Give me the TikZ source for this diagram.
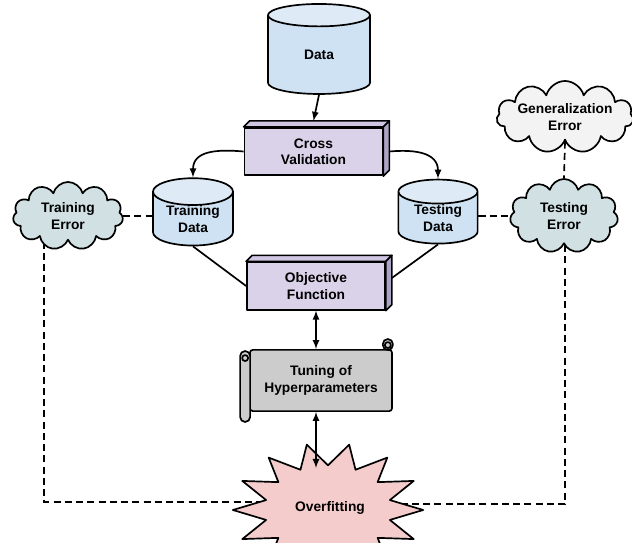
\documentclass[tikz,border=0pt]{standalone}
\usepackage{fontspec}
\setmainfont{Liberation Sans}
\usetikzlibrary{shapes.geometric,shapes.symbols,calc,backgrounds}
\definecolor{cylfill}{HTML}{CFE2F3}
\definecolor{cyltop}{HTML}{DEEBF7}
\definecolor{boxfill}{HTML}{D9D2E9}
\definecolor{boxtop}{HTML}{CFC6E2}
\definecolor{boxside}{HTML}{ADA3C4}
\definecolor{errfill}{HTML}{D0E0E3}
\definecolor{genfill}{HTML}{F3F3F3}
\definecolor{scrollfill}{HTML}{CCCCCC}
\definecolor{starfill}{HTML}{F4CCCC}
\begin{document}
\begin{tikzpicture}[x=0.025cm,y=-0.025cm,line width=1.2pt,line join=round,
	every node/.style={font=\fontsize{9.8}{11.5}\selectfont\bfseries,align=center,inner sep=0},
	db/.style={cylinder,draw,shape border rotate=90,aspect=0.75,
	cylinder uses custom fill,cylinder body fill=cylfill,cylinder end fill=cyltop},
	box/.style={rectangle,draw,fill=boxfill,minimum width=3.45cm,minimum height=1.19cm},
	err/.style={cloud,draw,cloud puffs=11,cloud ignores aspect,fill=errfill},
	dashlink/.style={dashed,dash pattern=on 5pt off 3pt}]
\useasboundingbox (0,0) rectangle (632,543);
\clip (0,0) rectangle (632,543);
% stores
\node[db,minimum width=2.55cm,minimum height=2.25cm] (data) at (319,55) {Data};
\node[db,aspect=0.5,minimum width=2cm,minimum height=1.68cm] (trd) at (193,219) {Training\\Data};
\node[db,aspect=0.5,minimum width=1.98cm,minimum height=1.6cm] (ted) at (438,218) {Testing\\Data};
% 3d boxes
\node[box] (cv) at (313.5,151.5) {Cross\\Validation};
\node[box] (obj) at (316,286) {Objective\\Function};
\foreach \n in {cv,obj}{
	\filldraw[fill=boxtop] (\n.north west) -- ++(6,-6) -- ($(\n.north east)+(6,-6)$) -- (\n.north east) -- cycle;
	\filldraw[fill=boxside] (\n.north east) -- ++(6,-6) -- ($(\n.south east)+(6,-6)$) -- (\n.south east) -- cycle;
}
% clouds
\node[err,minimum width=2.75cm,minimum height=1.7cm] (trerr) at (68,216) {Training\\Error};
\node[err,minimum width=2.7cm,minimum height=1.85cm] (teerr) at (564,216) {Testing\\Error};
\node[err,fill=genfill,minimum width=3.3cm,minimum height=1.8cm] (generr) at (565,117) {Generalization\\Error};
% scroll
\node[rectangle,draw,fill=scrollfill,rounded corners=2pt,minimum width=3.55cm,minimum height=1.53cm] (tune) at (321,380.5) {Tuning of\\Hyperparameters};
\filldraw[fill=scrollfill,rounded corners=3.5pt] ($(tune.north west)+(-9,2)$) rectangle ($(tune.south west)+(1,10)$);
\draw ($(tune.north west)+(-4,9)$) circle (3);
\filldraw[fill=scrollfill,rounded corners=3.5pt] ($(tune.north east)+(-10,1)$) rectangle ($(tune.north east)+(0,-10)$);
\draw ($(tune.north east)+(-5,-4)$) circle (3);
% overfitting
\path (328,510) node[star,draw,fill=starfill,star points=14,star point ratio=1.5,
	shape border rotate=12.857,minimum size=3.35cm,xscale=1.42] (ovf) {};
\node at (330,508) {Overfitting};
\coordinate (ovftop) at ($(ovf.center)+(-12,-42)$);
\coordinate (lc) at (44,502);
\coordinate (rc) at (565,504);
\draw[latex-latex] (obj.south |- tune.south) -- (obj.south |- ovftop);
\begin{scope}[on background layer]
\begin{scope}[line width=1.2pt]
\draw[-latex] (data.south) -- ($(cv.north)+(0,-6)$);
\draw[-latex] (cv.west) to[out=175,in=90,looseness=1.2] (trd.north);
\draw[-latex] ($(cv.east)+(6,0)$) to[out=5,in=90,looseness=1.2] (ted.north);
\draw (trd.south) -- (obj.west);
\draw (ted.south) -- ($(obj.east)+(6,-8)$);
\draw[latex-latex] (obj.south) -- (obj.south |- tune.north);
\draw[dashlink] (trerr.east) -- (trerr.east -| trd.west);
\draw[dashlink] (teerr.west -| ted.east) -- (teerr.west);
\draw[dashlink] (generr.south) -- (teerr.north);
\draw[dashlink] (trerr.south -| lc) -- (lc) -- (ovf.center |- lc);
\draw[dashlink] (teerr.south -| rc) -- (rc) -- (ovf.center |- rc);
\end{scope}
\end{scope}
\end{tikzpicture}
\end{document}
